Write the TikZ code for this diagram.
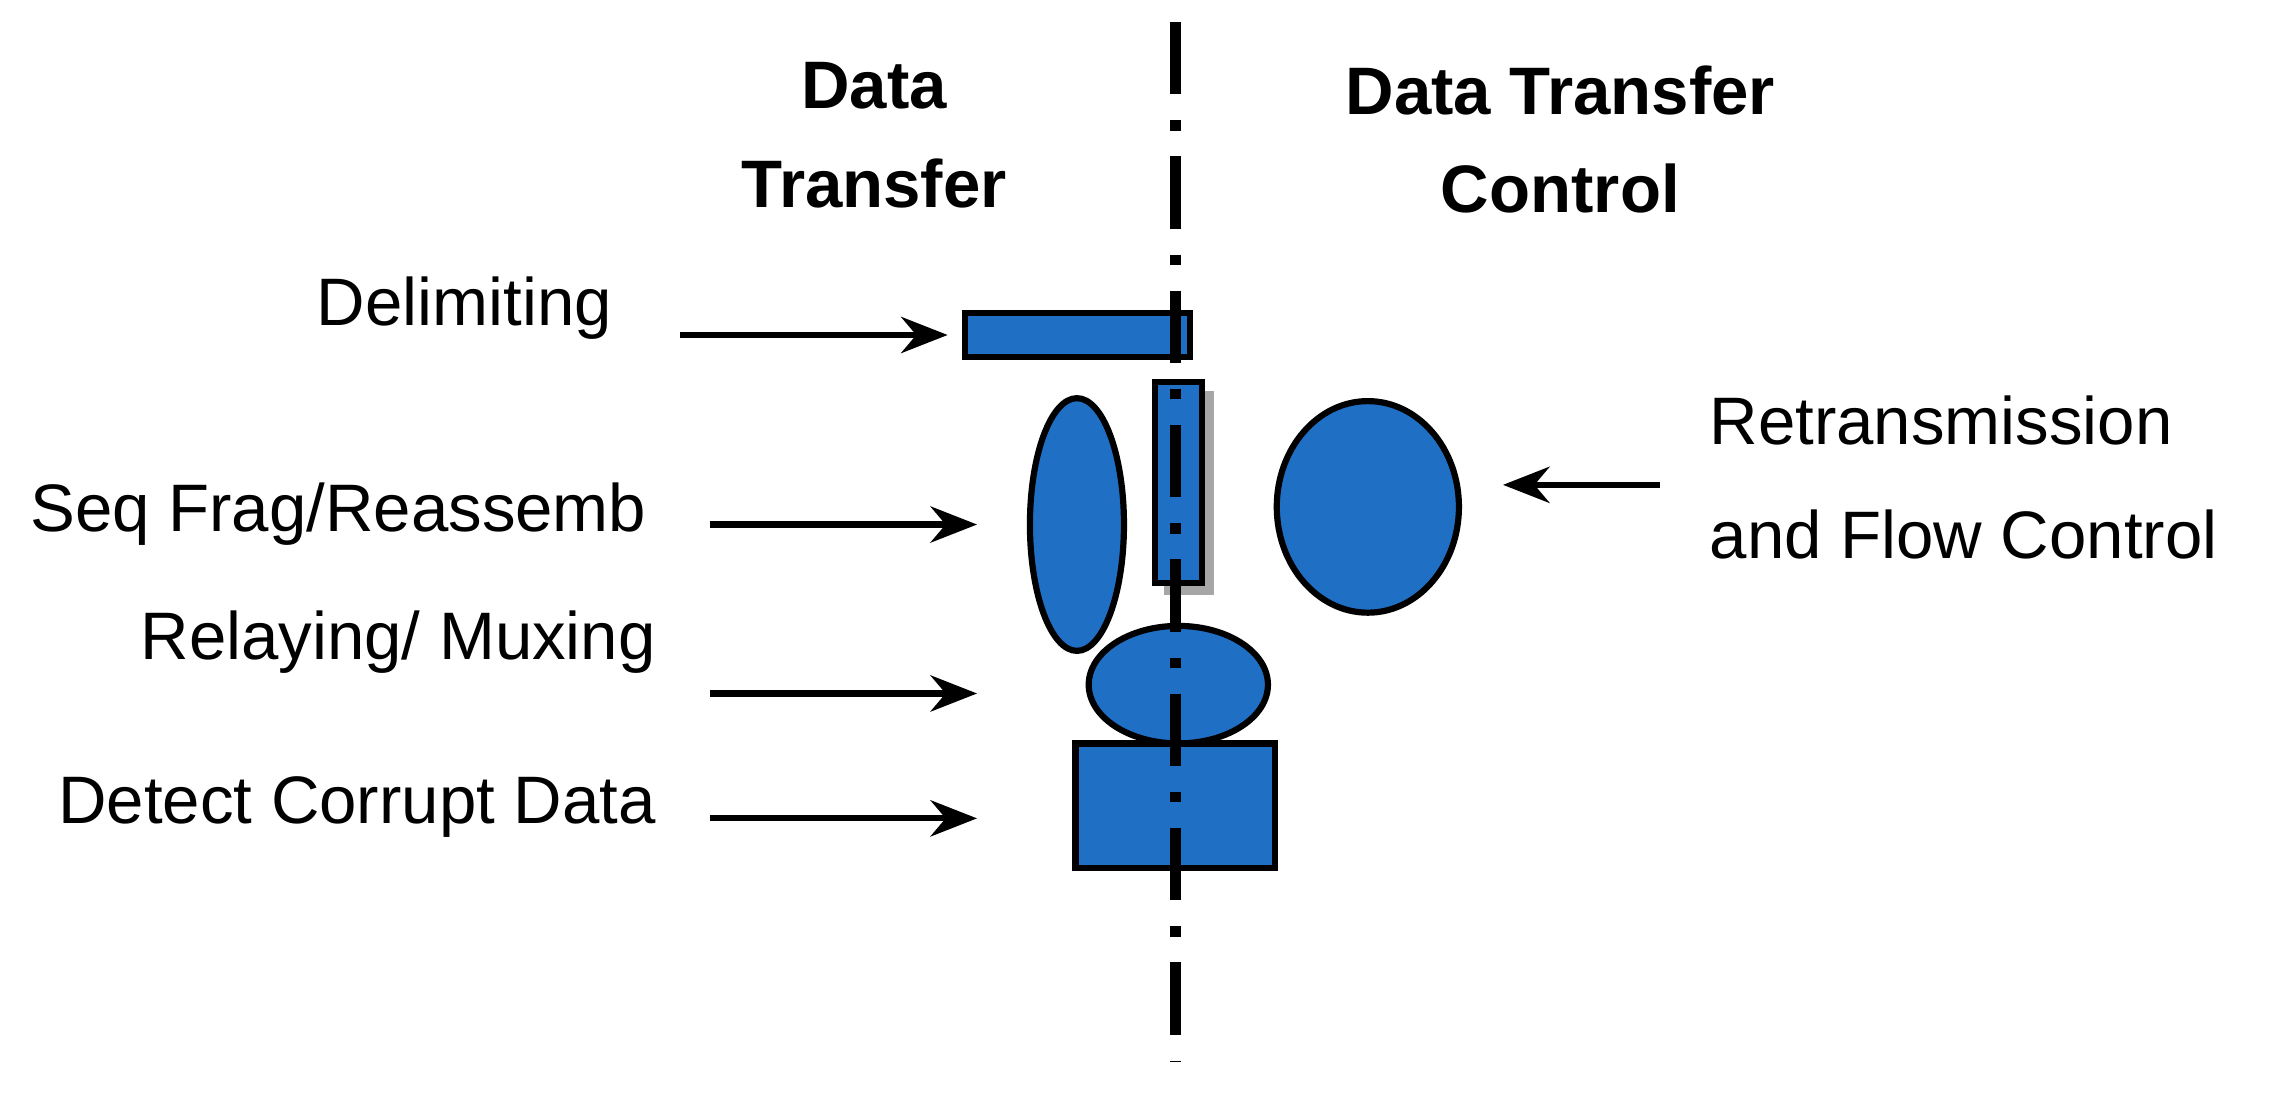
\documentclass[tikz,border=0pt]{standalone}
\usepackage{fontspec}
\setmainfont{Liberation Sans}
\usetikzlibrary{shapes.geometric,arrows.meta}
\definecolor{blk}{HTML}{1F6FC5}
\begin{document}
\begin{tikzpicture}[x=0.01cm,y=-0.01cm,
  shp/.style={fill=blk,draw=black,line width=1.2pt},
  lbl/.style={font=\fontsize{13}{16}\selectfont,inner sep=0pt},
  hd/.style={font=\fontsize{13}{19}\selectfont\bfseries,align=center,inner sep=0pt},
  arr/.style={-{Stealth[length=9pt,width=7pt]},line width=1.2pt}]
\useasboundingbox (0,0) rectangle (1560,745);
\node[hd] (h1) at (595,92) {Data\\Transfer};
\node[hd] (h2) at (1062,95) {Data Transfer\\Control};
% shapes
\fill[gray!70] (792,266) rectangle (826,405);
\draw[shp] (657,213) rectangle (810,243);
\draw[shp] (786,260) rectangle (818,397);
\draw[shp] (733,357) ellipse [x radius=32,y radius=86];
\draw[shp] (931,345) ellipse [x radius=62,y radius=72];
\draw[shp] (802,466) ellipse [x radius=61,y radius=40];
\draw[shp] (732,506) rectangle (868,591);
\draw[line width=2pt,dash pattern=on 14pt off 5pt on 2pt off 5pt] (800,15) -- (800,722);
% labels and arrows
\node[lbl,anchor=west] (t1) at (215,210) {Delimiting};
\coordinate (a1) at (463,228); \coordinate (b1) at (645,228);
\draw[arr] (a1) -- (b1);
\node[lbl,anchor=west] (t2) at (20,350) {Seq Frag/Reassemb};
\coordinate (a2) at (483,357); \coordinate (b2) at (665,357);
\draw[arr] (a2) -- (b2);
\node[lbl,anchor=east] (t3) at (447,437) {Relaying/ Muxing};
\coordinate (a3) at (483,472); \coordinate (b3) at (665,472);
\draw[arr] (a3) -- (b3);
\node[lbl,anchor=east] (t4) at (447,549) {Detect Corrupt Data};
\coordinate (a4) at (483,557); \coordinate (b4) at (665,557);
\draw[arr] (a4) -- (b4);
\node[lbl,anchor=west,align=left,font=\fontsize{13}{22}\selectfont] (t5) at (1163,325) {Retransmission\\and Flow Control};
\coordinate (a5) at (1130,330); \coordinate (b5) at (1023,330);
\draw[arr] (a5) -- (b5);
\end{tikzpicture}
\end{document}
